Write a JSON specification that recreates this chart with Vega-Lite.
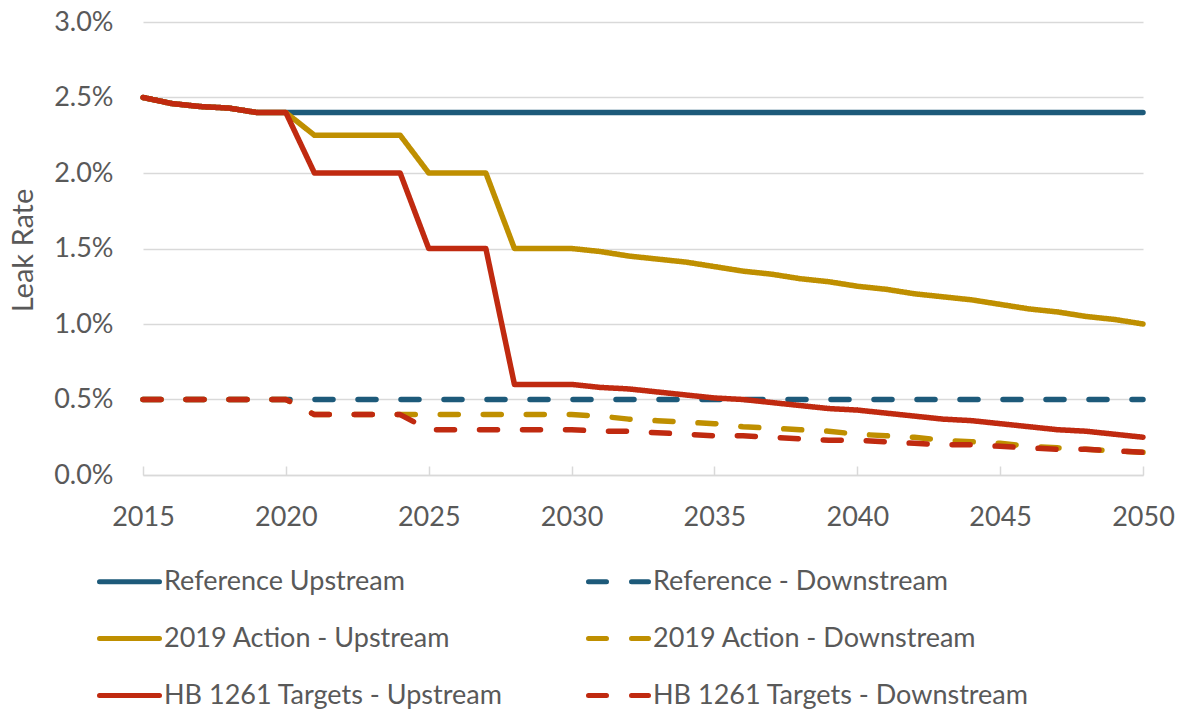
{
"$schema": "https://vega.github.io/schema/vega-lite/v6.json",
"width": 1000, "height": 453,
"autosize": {"type": "none"},
"padding": {"left": 143, "top": 22, "right": 44, "bottom": 236},
"background": "white",
"config": {"view": {"stroke": null}, "font": "Lato"},
"data": {"values": [
{"series":"Reference Upstream","year":2015,"rate":0.025},
{"series":"Reference Upstream","year":2016,"rate":0.0246},
{"series":"Reference Upstream","year":2017,"rate":0.0244},
{"series":"Reference Upstream","year":2018,"rate":0.0243},
{"series":"Reference Upstream","year":2019,"rate":0.024},
{"series":"Reference Upstream","year":2020,"rate":0.024},
{"series":"Reference Upstream","year":2021,"rate":0.024},
{"series":"Reference Upstream","year":2022,"rate":0.024},
{"series":"Reference Upstream","year":2023,"rate":0.024},
{"series":"Reference Upstream","year":2024,"rate":0.024},
{"series":"Reference Upstream","year":2025,"rate":0.024},
{"series":"Reference Upstream","year":2026,"rate":0.024},
{"series":"Reference Upstream","year":2027,"rate":0.024},
{"series":"Reference Upstream","year":2028,"rate":0.024},
{"series":"Reference Upstream","year":2029,"rate":0.024},
{"series":"Reference Upstream","year":2030,"rate":0.024},
{"series":"Reference Upstream","year":2031,"rate":0.024},
{"series":"Reference Upstream","year":2032,"rate":0.024},
{"series":"Reference Upstream","year":2033,"rate":0.024},
{"series":"Reference Upstream","year":2034,"rate":0.024},
{"series":"Reference Upstream","year":2035,"rate":0.024},
{"series":"Reference Upstream","year":2036,"rate":0.024},
{"series":"Reference Upstream","year":2037,"rate":0.024},
{"series":"Reference Upstream","year":2038,"rate":0.024},
{"series":"Reference Upstream","year":2039,"rate":0.024},
{"series":"Reference Upstream","year":2040,"rate":0.024},
{"series":"Reference Upstream","year":2041,"rate":0.024},
{"series":"Reference Upstream","year":2042,"rate":0.024},
{"series":"Reference Upstream","year":2043,"rate":0.024},
{"series":"Reference Upstream","year":2044,"rate":0.024},
{"series":"Reference Upstream","year":2045,"rate":0.024},
{"series":"Reference Upstream","year":2046,"rate":0.024},
{"series":"Reference Upstream","year":2047,"rate":0.024},
{"series":"Reference Upstream","year":2048,"rate":0.024},
{"series":"Reference Upstream","year":2049,"rate":0.024},
{"series":"Reference Upstream","year":2050,"rate":0.024},
{"series":"Reference - Downstream","year":2015,"rate":0.005},
{"series":"Reference - Downstream","year":2016,"rate":0.005},
{"series":"Reference - Downstream","year":2017,"rate":0.005},
{"series":"Reference - Downstream","year":2018,"rate":0.005},
{"series":"Reference - Downstream","year":2019,"rate":0.005},
{"series":"Reference - Downstream","year":2020,"rate":0.005},
{"series":"Reference - Downstream","year":2021,"rate":0.005},
{"series":"Reference - Downstream","year":2022,"rate":0.005},
{"series":"Reference - Downstream","year":2023,"rate":0.005},
{"series":"Reference - Downstream","year":2024,"rate":0.005},
{"series":"Reference - Downstream","year":2025,"rate":0.005},
{"series":"Reference - Downstream","year":2026,"rate":0.005},
{"series":"Reference - Downstream","year":2027,"rate":0.005},
{"series":"Reference - Downstream","year":2028,"rate":0.005},
{"series":"Reference - Downstream","year":2029,"rate":0.005},
{"series":"Reference - Downstream","year":2030,"rate":0.005},
{"series":"Reference - Downstream","year":2031,"rate":0.005},
{"series":"Reference - Downstream","year":2032,"rate":0.005},
{"series":"Reference - Downstream","year":2033,"rate":0.005},
{"series":"Reference - Downstream","year":2034,"rate":0.005},
{"series":"Reference - Downstream","year":2035,"rate":0.005},
{"series":"Reference - Downstream","year":2036,"rate":0.005},
{"series":"Reference - Downstream","year":2037,"rate":0.005},
{"series":"Reference - Downstream","year":2038,"rate":0.005},
{"series":"Reference - Downstream","year":2039,"rate":0.005},
{"series":"Reference - Downstream","year":2040,"rate":0.005},
{"series":"Reference - Downstream","year":2041,"rate":0.005},
{"series":"Reference - Downstream","year":2042,"rate":0.005},
{"series":"Reference - Downstream","year":2043,"rate":0.005},
{"series":"Reference - Downstream","year":2044,"rate":0.005},
{"series":"Reference - Downstream","year":2045,"rate":0.005},
{"series":"Reference - Downstream","year":2046,"rate":0.005},
{"series":"Reference - Downstream","year":2047,"rate":0.005},
{"series":"Reference - Downstream","year":2048,"rate":0.005},
{"series":"Reference - Downstream","year":2049,"rate":0.005},
{"series":"Reference - Downstream","year":2050,"rate":0.005},
{"series":"2019 Action - Upstream","year":2015,"rate":0.025},
{"series":"2019 Action - Upstream","year":2016,"rate":0.0246},
{"series":"2019 Action - Upstream","year":2017,"rate":0.0244},
{"series":"2019 Action - Upstream","year":2018,"rate":0.0243},
{"series":"2019 Action - Upstream","year":2019,"rate":0.024},
{"series":"2019 Action - Upstream","year":2020,"rate":0.024},
{"series":"2019 Action - Upstream","year":2021,"rate":0.0225},
{"series":"2019 Action - Upstream","year":2022,"rate":0.0225},
{"series":"2019 Action - Upstream","year":2023,"rate":0.0225},
{"series":"2019 Action - Upstream","year":2024,"rate":0.0225},
{"series":"2019 Action - Upstream","year":2025,"rate":0.02},
{"series":"2019 Action - Upstream","year":2026,"rate":0.02},
{"series":"2019 Action - Upstream","year":2027,"rate":0.02},
{"series":"2019 Action - Upstream","year":2028,"rate":0.015},
{"series":"2019 Action - Upstream","year":2029,"rate":0.015},
{"series":"2019 Action - Upstream","year":2030,"rate":0.015},
{"series":"2019 Action - Upstream","year":2031,"rate":0.0148},
{"series":"2019 Action - Upstream","year":2032,"rate":0.0145},
{"series":"2019 Action - Upstream","year":2033,"rate":0.0143},
{"series":"2019 Action - Upstream","year":2034,"rate":0.0141},
{"series":"2019 Action - Upstream","year":2035,"rate":0.0138},
{"series":"2019 Action - Upstream","year":2036,"rate":0.0135},
{"series":"2019 Action - Upstream","year":2037,"rate":0.0133},
{"series":"2019 Action - Upstream","year":2038,"rate":0.013},
{"series":"2019 Action - Upstream","year":2039,"rate":0.0128},
{"series":"2019 Action - Upstream","year":2040,"rate":0.0125},
{"series":"2019 Action - Upstream","year":2041,"rate":0.0123},
{"series":"2019 Action - Upstream","year":2042,"rate":0.012},
{"series":"2019 Action - Upstream","year":2043,"rate":0.0118},
{"series":"2019 Action - Upstream","year":2044,"rate":0.0116},
{"series":"2019 Action - Upstream","year":2045,"rate":0.0113},
{"series":"2019 Action - Upstream","year":2046,"rate":0.011},
{"series":"2019 Action - Upstream","year":2047,"rate":0.0108},
{"series":"2019 Action - Upstream","year":2048,"rate":0.0105},
{"series":"2019 Action - Upstream","year":2049,"rate":0.0103},
{"series":"2019 Action - Upstream","year":2050,"rate":0.01},
{"series":"2019 Action - Downstream","year":2015,"rate":0.005},
{"series":"2019 Action - Downstream","year":2016,"rate":0.005},
{"series":"2019 Action - Downstream","year":2017,"rate":0.005},
{"series":"2019 Action - Downstream","year":2018,"rate":0.005},
{"series":"2019 Action - Downstream","year":2019,"rate":0.005},
{"series":"2019 Action - Downstream","year":2020,"rate":0.005},
{"series":"2019 Action - Downstream","year":2021,"rate":0.004},
{"series":"2019 Action - Downstream","year":2022,"rate":0.004},
{"series":"2019 Action - Downstream","year":2023,"rate":0.004},
{"series":"2019 Action - Downstream","year":2024,"rate":0.004},
{"series":"2019 Action - Downstream","year":2025,"rate":0.004},
{"series":"2019 Action - Downstream","year":2026,"rate":0.004},
{"series":"2019 Action - Downstream","year":2027,"rate":0.004},
{"series":"2019 Action - Downstream","year":2028,"rate":0.004},
{"series":"2019 Action - Downstream","year":2029,"rate":0.004},
{"series":"2019 Action - Downstream","year":2030,"rate":0.004},
{"series":"2019 Action - Downstream","year":2031,"rate":0.0039},
{"series":"2019 Action - Downstream","year":2032,"rate":0.0037},
{"series":"2019 Action - Downstream","year":2033,"rate":0.0036},
{"series":"2019 Action - Downstream","year":2034,"rate":0.0035},
{"series":"2019 Action - Downstream","year":2035,"rate":0.0034},
{"series":"2019 Action - Downstream","year":2036,"rate":0.0032},
{"series":"2019 Action - Downstream","year":2037,"rate":0.0031},
{"series":"2019 Action - Downstream","year":2038,"rate":0.003},
{"series":"2019 Action - Downstream","year":2039,"rate":0.0029},
{"series":"2019 Action - Downstream","year":2040,"rate":0.0027},
{"series":"2019 Action - Downstream","year":2041,"rate":0.0026},
{"series":"2019 Action - Downstream","year":2042,"rate":0.0025},
{"series":"2019 Action - Downstream","year":2043,"rate":0.0023},
{"series":"2019 Action - Downstream","year":2044,"rate":0.0022},
{"series":"2019 Action - Downstream","year":2045,"rate":0.0021},
{"series":"2019 Action - Downstream","year":2046,"rate":0.0019},
{"series":"2019 Action - Downstream","year":2047,"rate":0.0018},
{"series":"2019 Action - Downstream","year":2048,"rate":0.0017},
{"series":"2019 Action - Downstream","year":2049,"rate":0.0016},
{"series":"2019 Action - Downstream","year":2050,"rate":0.0015},
{"series":"HB 1261 Targets - Upstream","year":2015,"rate":0.025},
{"series":"HB 1261 Targets - Upstream","year":2016,"rate":0.0246},
{"series":"HB 1261 Targets - Upstream","year":2017,"rate":0.0244},
{"series":"HB 1261 Targets - Upstream","year":2018,"rate":0.0243},
{"series":"HB 1261 Targets - Upstream","year":2019,"rate":0.024},
{"series":"HB 1261 Targets - Upstream","year":2020,"rate":0.024},
{"series":"HB 1261 Targets - Upstream","year":2021,"rate":0.02},
{"series":"HB 1261 Targets - Upstream","year":2022,"rate":0.02},
{"series":"HB 1261 Targets - Upstream","year":2023,"rate":0.02},
{"series":"HB 1261 Targets - Upstream","year":2024,"rate":0.02},
{"series":"HB 1261 Targets - Upstream","year":2025,"rate":0.015},
{"series":"HB 1261 Targets - Upstream","year":2026,"rate":0.015},
{"series":"HB 1261 Targets - Upstream","year":2027,"rate":0.015},
{"series":"HB 1261 Targets - Upstream","year":2028,"rate":0.006},
{"series":"HB 1261 Targets - Upstream","year":2029,"rate":0.006},
{"series":"HB 1261 Targets - Upstream","year":2030,"rate":0.006},
{"series":"HB 1261 Targets - Upstream","year":2031,"rate":0.0058},
{"series":"HB 1261 Targets - Upstream","year":2032,"rate":0.0057},
{"series":"HB 1261 Targets - Upstream","year":2033,"rate":0.0055},
{"series":"HB 1261 Targets - Upstream","year":2034,"rate":0.0053},
{"series":"HB 1261 Targets - Upstream","year":2035,"rate":0.0051},
{"series":"HB 1261 Targets - Upstream","year":2036,"rate":0.005},
{"series":"HB 1261 Targets - Upstream","year":2037,"rate":0.0048},
{"series":"HB 1261 Targets - Upstream","year":2038,"rate":0.0046},
{"series":"HB 1261 Targets - Upstream","year":2039,"rate":0.0044},
{"series":"HB 1261 Targets - Upstream","year":2040,"rate":0.0043},
{"series":"HB 1261 Targets - Upstream","year":2041,"rate":0.0041},
{"series":"HB 1261 Targets - Upstream","year":2042,"rate":0.0039},
{"series":"HB 1261 Targets - Upstream","year":2043,"rate":0.0037},
{"series":"HB 1261 Targets - Upstream","year":2044,"rate":0.0036},
{"series":"HB 1261 Targets - Upstream","year":2045,"rate":0.0034},
{"series":"HB 1261 Targets - Upstream","year":2046,"rate":0.0032},
{"series":"HB 1261 Targets - Upstream","year":2047,"rate":0.003},
{"series":"HB 1261 Targets - Upstream","year":2048,"rate":0.0029},
{"series":"HB 1261 Targets - Upstream","year":2049,"rate":0.0027},
{"series":"HB 1261 Targets - Upstream","year":2050,"rate":0.0025},
{"series":"HB 1261 Targets - Downstream","year":2015,"rate":0.005},
{"series":"HB 1261 Targets - Downstream","year":2016,"rate":0.005},
{"series":"HB 1261 Targets - Downstream","year":2017,"rate":0.005},
{"series":"HB 1261 Targets - Downstream","year":2018,"rate":0.005},
{"series":"HB 1261 Targets - Downstream","year":2019,"rate":0.005},
{"series":"HB 1261 Targets - Downstream","year":2020,"rate":0.005},
{"series":"HB 1261 Targets - Downstream","year":2021,"rate":0.004},
{"series":"HB 1261 Targets - Downstream","year":2022,"rate":0.004},
{"series":"HB 1261 Targets - Downstream","year":2023,"rate":0.004},
{"series":"HB 1261 Targets - Downstream","year":2024,"rate":0.004},
{"series":"HB 1261 Targets - Downstream","year":2025,"rate":0.003},
{"series":"HB 1261 Targets - Downstream","year":2026,"rate":0.003},
{"series":"HB 1261 Targets - Downstream","year":2027,"rate":0.003},
{"series":"HB 1261 Targets - Downstream","year":2028,"rate":0.003},
{"series":"HB 1261 Targets - Downstream","year":2029,"rate":0.003},
{"series":"HB 1261 Targets - Downstream","year":2030,"rate":0.003},
{"series":"HB 1261 Targets - Downstream","year":2031,"rate":0.0029},
{"series":"HB 1261 Targets - Downstream","year":2032,"rate":0.0029},
{"series":"HB 1261 Targets - Downstream","year":2033,"rate":0.0028},
{"series":"HB 1261 Targets - Downstream","year":2034,"rate":0.0027},
{"series":"HB 1261 Targets - Downstream","year":2035,"rate":0.0026},
{"series":"HB 1261 Targets - Downstream","year":2036,"rate":0.0026},
{"series":"HB 1261 Targets - Downstream","year":2037,"rate":0.0025},
{"series":"HB 1261 Targets - Downstream","year":2038,"rate":0.0024},
{"series":"HB 1261 Targets - Downstream","year":2039,"rate":0.0023},
{"series":"HB 1261 Targets - Downstream","year":2040,"rate":0.0023},
{"series":"HB 1261 Targets - Downstream","year":2041,"rate":0.0022},
{"series":"HB 1261 Targets - Downstream","year":2042,"rate":0.0021},
{"series":"HB 1261 Targets - Downstream","year":2043,"rate":0.002},
{"series":"HB 1261 Targets - Downstream","year":2044,"rate":0.002},
{"series":"HB 1261 Targets - Downstream","year":2045,"rate":0.0019},
{"series":"HB 1261 Targets - Downstream","year":2046,"rate":0.0018},
{"series":"HB 1261 Targets - Downstream","year":2047,"rate":0.0017},
{"series":"HB 1261 Targets - Downstream","year":2048,"rate":0.0017},
{"series":"HB 1261 Targets - Downstream","year":2049,"rate":0.0016},
{"series":"HB 1261 Targets - Downstream","year":2050,"rate":0.0015}
]},
"mark": {"type": "line", "strokeWidth": 5.5, "strokeCap": "round", "strokeJoin": "round"},
"encoding": {
"x": {"field": "year", "type": "quantitative",
 "scale": {"domain": [2015, 2050], "nice": false, "zero": false},
 "axis": {"values": [2015,2020,2025,2030,2035,2040,2045,2050], "format": "d", "title": null, "grid": false,
  "domainColor": "#d9d9d9", "domainWidth": 1.5, "tickColor": "#d9d9d9", "tickWidth": 1.5, "tickSize": -9,
  "labelFontSize": 27, "labelColor": "#595959", "labelPadding": 38, "labelFlush": false}},
"y": {"field": "rate", "type": "quantitative",
 "scale": {"domain": [0, 0.03], "nice": false},
 "axis": {"values": [0,0.005,0.01,0.015,0.02,0.025,0.03], "format": ".1%", "title": "Leak Rate", "grid": true,
  "gridColor": "#d9d9d9", "gridWidth": 1.5, "domain": false, "ticks": false,
  "labelFontSize": 27, "labelColor": "#595959", "labelPadding": 30,
  "titleFontSize": 29, "titleFontWeight": "normal", "titleColor": "#595959",
  "titleX": -120, "titleY": 228, "titleAlign": "center", "titleBaseline": "middle", "titleAngle": -90}},
"color": {"field": "series", "type": "nominal",
 "scale": {"domain": ["Reference Upstream","Reference - Downstream","2019 Action - Upstream","2019 Action - Downstream","HB 1261 Targets - Upstream","HB 1261 Targets - Downstream"],
  "range": ["#1d5a7a","#1d5a7a","#bf8f00","#bf8f00","#c02a10","#c02a10"]},
 "legend": {"title": null, "orient": "none", "legendX": -46, "legendY": 527, "columns": 2, "direction": "horizontal",
  "symbolType": "stroke", "symbolSize": 3600, "symbolStrokeWidth": 5, "labelFontSize": 27, "labelColor": "#595959",
  "labelOffset": 2, "rowPadding": 11, "columnPadding": 75, "labelLimit": 600,
  "encode": {"symbols": {"update": {"strokeCap": {"value": "round"}}}}}},
"strokeDash": {"field": "series", "type": "nominal",
 "scale": {"domain": ["Reference Upstream","Reference - Downstream","2019 Action - Upstream","2019 Action - Downstream","HB 1261 Targets - Upstream","HB 1261 Targets - Downstream"],
  "range": [[1,0],[18,25],[1,0],[18,25],[1,0],[18,25]]},
 "legend": {"title": null, "orient": "none", "legendX": -46, "legendY": 527, "columns": 2, "direction": "horizontal",
  "symbolType": "stroke", "symbolSize": 3600, "symbolStrokeWidth": 5, "labelFontSize": 27, "labelColor": "#595959",
  "labelOffset": 2, "rowPadding": 11, "columnPadding": 75, "labelLimit": 600,
  "encode": {"symbols": {"update": {"strokeCap": {"value": "round"}}}}}}
}
}
